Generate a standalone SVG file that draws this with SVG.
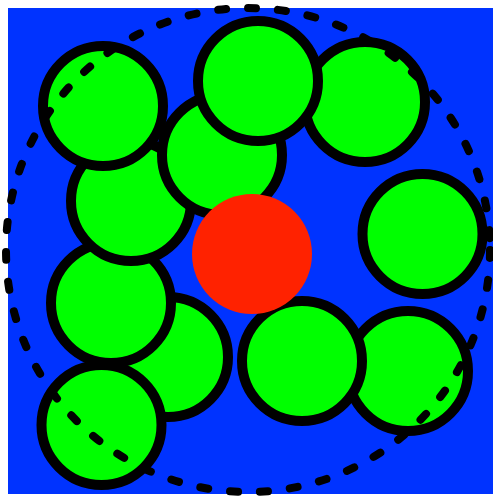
<svg xmlns="http://www.w3.org/2000/svg" width="493" height="502" viewBox="0 0 493 502">
<style>
.g{fill:#00ff00;stroke:#000;stroke-width:10}
.r{fill:#ff2200}
.d{fill:none;stroke:#000;stroke-width:8;stroke-linecap:round;stroke-dasharray:8 22}
</style>
<rect x="8" y="8" width="486" height="486" fill="#0033ff"/>
<g id="nE"><circle class="g" cx="365" cy="102" r="60"/></g>
<g id="nF"><circle class="g" cx="422.5" cy="234" r="60"/></g>
<g id="nJ"><circle class="g" cx="408" cy="371" r="60"/></g>
<g id="nI"><circle class="g" cx="302" cy="361" r="60"/></g>
<g id="nH"><circle class="g" cx="168" cy="357" r="60"/></g>
<g id="nG"><circle class="g" cx="111" cy="303" r="60"/></g>
<g id="nK"><circle class="g" cx="101.5" cy="425" r="60"/></g>
<g id="nB"><circle class="g" cx="131" cy="201" r="60"/></g>
<g id="nA"><circle class="g" cx="103" cy="106" r="60"/></g>
<g id="nC"><circle class="g" cx="222" cy="155" r="60"/></g>
<g id="nD"><circle class="g" cx="258" cy="81" r="60"/></g>
<g id="nRed"><circle class="r" cx="252" cy="254" r="60"/></g>
<g id="connectors"></g>
<g id="boundary"><circle class="d" cx="248" cy="250" r="242"/></g>
</svg>
